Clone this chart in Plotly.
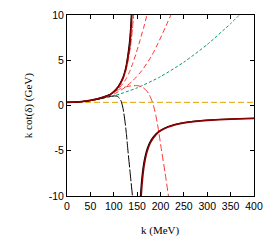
import plotly.graph_objects as go

# ---------------- data ----------------
k_orange = [0, 400]
y_orange = [0.35, 0.35]

k_green = [0, 50, 100, 150, 200, 250, 300, 350, 370]
y_green = [0.35, 0.53, 1.06, 1.95, 3.19, 4.79, 6.74, 9.05, 10.07]

k_redA = [0, 40, 70, 90, 100, 110, 120, 127, 134, 141, 148, 154, 160, 166, 172, 176]
y_redA = [0.35, 0.46, 0.74, 1.12, 1.42, 1.85, 2.45, 3.0, 3.75, 4.7, 5.8, 6.8, 7.9, 9.0, 10.2, 11.0]

k_redB = [0, 50, 80, 100, 120, 140, 160, 180, 195, 210, 223, 228]
y_redB = [0.35, 0.53, 0.88, 1.25, 1.85, 2.7, 3.85, 5.4, 6.9, 8.6, 10.1, 10.8]

k_redC = [0, 40, 60, 80, 95, 105, 115, 125, 137, 148, 155, 162, 170, 176, 181, 185, 190, 195, 202, 210, 217, 221]
y_redC = [0.35, 0.46, 0.64, 0.92, 1.28, 1.6, 1.88, 2.05, 2.17, 2.2, 2.15, 2.0, 1.65, 1.2, 0.6, 0.0, -1.1, -2.5, -4.9, -7.5, -10.0, -11.3]

k_red0 = [0, 40, 60, 80, 95, 105, 115, 120, 125, 130, 134, 137, 140, 142.5, 145]
y_red0 = [0.35, 0.47, 0.67, 0.95, 1.3, 1.7, 2.4, 2.95, 3.7, 4.75, 5.9, 7.0, 8.5, 10.0, 11.6]

k_blackdash = [0, 30, 60, 80, 95, 103, 108, 112, 116, 120, 124, 127, 130, 135, 140, 143]
y_blackdash = [0.35, 0.41, 0.62, 0.86, 1.02, 1.06, 1.0, 0.82, 0.45, -0.35, -1.75, -3.1, -4.8, -7.4, -10.0, -11.5]

k_black_up = [0, 20, 40, 60, 80, 92, 100, 110, 115, 120, 125, 128, 131, 134, 136, 137.5, 139]
y_black_up = [0.35, 0.38, 0.48, 0.68, 0.98, 1.22, 1.55, 2.15, 2.6, 3.15, 4.05, 4.85, 5.9, 7.2, 8.5, 10.0, 12.0]
k_black_lo = [155, 157, 158, 160, 163, 167, 172, 180, 190, 200, 215, 230, 250, 275, 300, 350, 400]
y_black_lo = [-12.3, -10.1, -9.3, -8.06, -6.75, -5.62, -4.70, -3.80, -3.15, -2.74, -2.35, -2.11, -1.90, -1.73, -1.62, -1.49, -1.41]

k_dred_up = [0, 20, 40, 60, 80, 92, 100, 110, 115, 120, 125, 128, 131, 134, 136, 138, 139.5, 141]
y_dred_up = [0.35, 0.38, 0.48, 0.68, 0.97, 1.2, 1.5, 2.08, 2.5, 3.05, 3.85, 4.55, 5.5, 6.5, 7.7, 9.3, 10.8, 12.5]
k_dred_lo = [157, 159, 160, 162, 165, 170, 175, 180, 190, 200, 215, 230, 250, 275, 300, 350, 400]
y_dred_lo = [-11.7, -9.77, -9.04, -7.88, -6.64, -5.35, -4.53, -3.97, -3.25, -2.81, -2.40, -2.14, -1.92, -1.75, -1.64, -1.50, -1.42]

x_ticks = [0, 50, 100, 150, 200, 250, 300, 350, 400]
y_ticks = [-10, -5, 0, 5, 10]

# ---------------- figure ----------------
fig = go.Figure()

def add(k, y, color, width, dash="solid"):
    fig.add_trace(go.Scatter(x=k, y=y, mode="lines",
                             line=dict(color=color, width=width, dash=dash, shape="spline", smoothing=0.6),
                             hoverinfo="skip", showlegend=False))

add(k_orange, y_orange, "#E69F00", 1, "6px,3px")
add(k_green, y_green, "#009E73", 1, "3px,2px")
add(k_redB, y_redB, "#FF3333", 1, "5px,3px")
add(k_redA, y_redA, "#FF3333", 1, "5px,3px")
add(k_redC, y_redC, "#FF3333", 1, "7px,3px")
add(k_red0, y_red0, "#FF3333", 1, "7px,2px")
add(k_blackdash, y_blackdash, "#000000", 1, "12px,2px")
add(k_black_up, y_black_up, "#000000", 1.2)
add(k_black_lo, y_black_lo, "#000000", 1.2)
add(k_dred_up, y_dred_up, "#8B0000", 1.6)
add(k_dred_lo, y_dred_lo, "#8B0000", 1.6)

axis_common = dict(showgrid=False, zeroline=False, showline=True, linecolor="black",
                   linewidth=1, mirror="ticks", ticks="inside", ticklen=4,
                   tickcolor="black", tickwidth=1,
                   tickfont=dict(family="Liberation Sans, Arial", size=10.5, color="black"))

fig.update_xaxes(range=[0, 400], tickvals=x_ticks, ticktext=[str(v) for v in x_ticks], **axis_common)
fig.update_yaxes(range=[-10, 10], tickvals=y_ticks, ticktext=[str(v) for v in y_ticks], **axis_common)

fig.update_layout(
    width=275, height=245,
    margin=dict(l=67, r=21, t=9, b=49),
    plot_bgcolor="white", paper_bgcolor="white",
    showlegend=False,
    annotations=[
        dict(text="k (MeV)", xref="paper", yref="paper", x=0.5, y=-0.19,
             xanchor="center", yanchor="middle", showarrow=False,
             font=dict(family="Liberation Serif, Times New Roman", size=11, color="black")),
        dict(text="k cot(δ) (GeV)", xref="paper", yref="paper", x=-0.205, y=0.5,
             xanchor="center", yanchor="middle", showarrow=False, textangle=-90,
             font=dict(family="Liberation Serif, Times New Roman", size=11, color="black")),
    ],
)

fig.write_html("out.html", config={"displayModeBar": False, "staticPlot": True},
               post_script="document.body.style.margin='0';document.body.style.overflow='hidden';")
